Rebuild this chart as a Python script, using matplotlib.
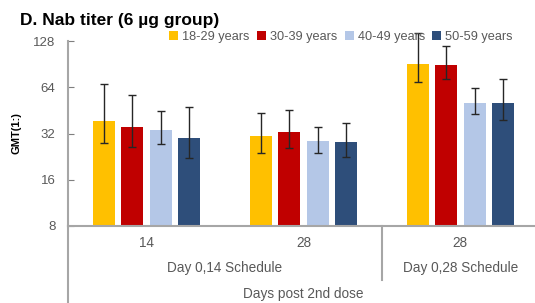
import matplotlib
matplotlib.use('Agg')
import matplotlib.pyplot as plt
import matplotlib.transforms as mtransforms
import numpy as np

plt.rcParams['font.family'] = ['Liberation Sans', 'DejaVu Sans']

groups = ['14', '28', '28']
schedules = ['Day 0,14 Schedule', 'Day 0,28 Schedule']
ages = ['18-29 years', '30-39 years', '40-49 years', '50-59 years']
colors = ['#FFC000', '#C00000', '#B4C7E7', '#2E4E7A']

# GMT per age group, one value per x category
gmt = {
    '18-29 years': [38.4, 30.9, 90.5],
    '30-39 years': [35.5, 32.8, 89.9],
    '40-49 years': [33.8, 28.5, 50.8],
    '50-59 years': [30.0, 28.0, 50.8],
}
ci_low = {
    '18-29 years': [27.6, 24.0, 69.1],
    '30-39 years': [26.1, 25.7, 71.9],
    '40-49 years': [27.3, 23.9, 42.7],
    '50-59 years': [22.3, 22.4, 39.4],
}
ci_high = {
    '18-29 years': [66.8, 43.8, 145.0],
    '30-39 years': [56.6, 45.5, 118.0],
    '40-49 years': [44.6, 35.5, 63.2],
    '50-59 years': [47.6, 37.5, 72.3],
}

fig = plt.figure(figsize=(5.35, 3.03), dpi=100)
ax = fig.add_axes([68 / 535, 1 - 226 / 303, 1 - 68 / 535, 185 / 303])

x = np.arange(len(groups))
pitch = 0.18
width = 0.14
for i, age in enumerate(ages):
    vals = np.array(gmt[age])
    lo = vals - np.array(ci_low[age])
    hi = np.array(ci_high[age]) - vals
    ax.bar(x + (i - 1.5) * pitch, vals, width, color=colors[i], label=age,
           zorder=2)
    ax.errorbar(x + (i - 1.5) * pitch, vals, yerr=[lo, hi], fmt='none',
                ecolor='#262626', elinewidth=1, capsize=3, capthick=1,
                zorder=3, clip_on=False)

ax.set_yscale('log', base=2)
ax.set_ylim(8, 128)
ax.set_yticks([8, 16, 32, 64, 128])
ax.set_yticklabels(['8', '16', '32', '64', '128'])
ax.minorticks_off()
ax.set_xlim(-0.5, 2.475)
ax.set_xticks([])

gray = '#A6A6A6'
for s in ['top', 'right']:
    ax.spines[s].set_visible(False)
ax.spines['left'].set_color(gray)
ax.spines['left'].set_linewidth(1.5)
ax.spines['bottom'].set_color(gray)
ax.spines['bottom'].set_linewidth(1.5)
ax.tick_params(axis='y', direction='in', length=4, color='#7F7F7F',
               labelcolor='#595959', labelsize=9.5, pad=9)

ax.set_ylabel('GMT(1:)', fontsize=8, fontweight='bold')
ax.yaxis.set_label_coords(-0.10, 0.5)

# category table below the axis
trans = mtransforms.blended_transform_factory(ax.transData, ax.transAxes)
ax.plot([-0.5, -0.5], [0, -0.43], transform=trans, color=gray, lw=1.5,
        clip_on=False)
ax.plot([1.5, 1.5], [0, -0.29], transform=trans, color=gray, lw=1.5,
        clip_on=False)
txt = dict(transform=trans, ha='center', va='center', fontsize=9.8,
           color='#595959')
for xi, g in zip(x, groups):
    ax.text(xi, -0.092, g, **txt)
ax.text(0.5, -0.227, schedules[0], **txt)
ax.text(2.0, -0.227, schedules[1], **txt)
ax.text(1.0, -0.368, 'Days post 2nd dose', **txt)

fig.text(20 / 535, 1 - 20 / 303, 'D. Nab titer (6 µg group)', fontsize=12.5,
         fontweight='bold', ha='left', va='center')
fig.legend(loc='center', bbox_to_anchor=(341 / 535, 1 - 37 / 303), ncol=4,
           frameon=False, fontsize=9.2, handlelength=0.7, handleheight=0.7,
           handletextpad=0.3, columnspacing=0.6, labelcolor='#595959',
           borderpad=0)

fig.savefig('out.png', dpi=100)
